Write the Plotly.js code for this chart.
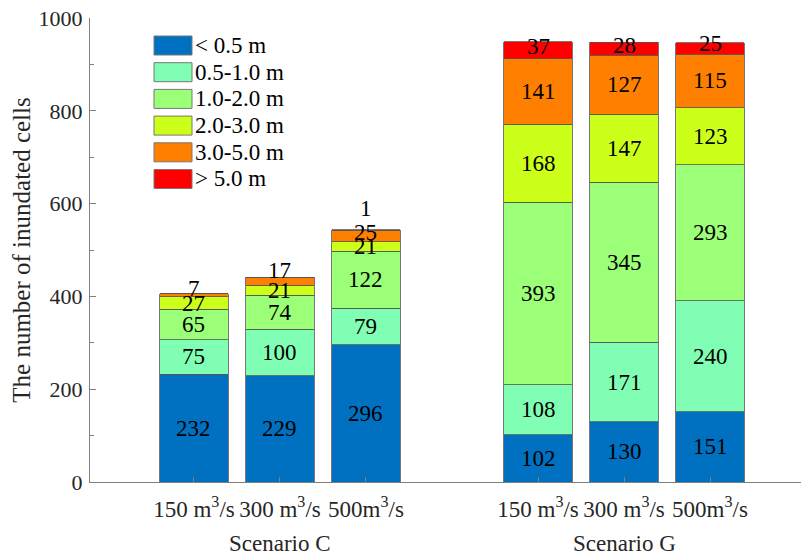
<!DOCTYPE html>
<html>
<head>
<meta charset="utf-8">
<script src="https://cdn.plot.ly/plotly-3.0.1.min.js"></script>
<style>html,body{margin:0;padding:0;background:#fff;}#chart{width:802px;height:555px;}</style>
</head>
<body>
<div id="chart"></div>
<script>
// ---- data ----
var barPositions = [1, 2, 3, 5, 6, 7];
var flowLabels = ["150 m<sup>3</sup>/s", "300 m<sup>3</sup>/s", "500m<sup>3</sup>/s",
                  "150 m<sup>3</sup>/s", "300 m<sup>3</sup>/s", "500m<sup>3</sup>/s"];
var scenarioNames = ["Scenario C", "Scenario G"];
var scenarioCenters = [2, 6];
var depthClasses = ["< 0.5 m", "0.5-1.0 m", "1.0-2.0 m", "2.0-3.0 m", "3.0-5.0 m", "> 5.0 m"];
var lt05   = [232, 229, 296, 102, 130, 151];
var d05_10 = [75, 100, 79, 108, 171, 240];
var d10_20 = [65, 74, 122, 393, 345, 293];
var d20_30 = [27, 21, 21, 168, 147, 123];
var d30_50 = [7, 17, 25, 141, 127, 115];
var gt50   = [0, 0, 1, 37, 28, 25];
var yTicks = [0, 200, 400, 600, 800, 1000];

// ---- styling ----
var colors = ["#0070C0", "#80FFB4", "#9BFF78", "#CCFF1A", "#FF8000", "#FF0000"];
var series = [lt05, d05_10, d10_20, d20_30, d30_50, gt50];
// label nudges (px, upward) for crowded small segments: "series-bar"
var nudge = {"4-0": 7, "4-1": 11, "5-2": 21, "5-3": 4, "5-4": 3, "5-5": 5, "4-2": 3};
var FONT = "Liberation Serif, Times New Roman, serif";
var W = 802, H = 555, ML = 90, MR = 1, MT = 18, MB = 73;
var PW = W - ML - MR, PH = H - MT - MB;
function px2x(px) { return (px - ML) / PW; }
function py2y(py) { return (H - MB - py) / PH; }

var traces = series.map(function (vals, i) {
  return {
    type: "bar",
    name: depthClasses[i],
    x: barPositions,
    y: vals,
    width: 0.8,
    marker: {color: colors[i], line: {color: "#555555", width: 0.8}},
    hoverinfo: "none",
    showlegend: false
  };
});

var annotations = [];
for (var j = 0; j < barPositions.length; j++) {
  var cum = 0;
  for (var i = 0; i < series.length; i++) {
    var v = series[i][j];
    if (v > 0) {
      annotations.push({
        x: barPositions[j], y: cum + v / 2, xref: "x", yref: "y",
        text: String(v), showarrow: false,
        yshift: nudge[i + "-" + j] || 0,
        font: {family: FONT, size: 23, color: "#000"}
      });
    }
    cum += v;
  }
}
for (var k = 0; k < scenarioNames.length; k++) {
  annotations.push({
    x: scenarioCenters[k], y: 0, xref: "x", yref: "paper",
    yanchor: "middle", yshift: -61,
    text: scenarioNames[k], showarrow: false,
    font: {family: FONT, size: 23, color: "#262626"}
  });
}

// custom legend (swatches + labels) in the upper left of the plot area
var shapes = [];
for (var m = 0; m < depthClasses.length; m++) {
  var swTop = 36 + 26.7 * m, swBot = swTop + 19;
  shapes.push({
    type: "rect", xref: "paper", yref: "paper",
    x0: px2x(154), x1: px2x(192), y0: py2y(swBot), y1: py2y(swTop),
    fillcolor: colors[m], line: {color: "#777777", width: 1}
  });
  annotations.push({
    x: px2x(193), y: py2y((swTop + swBot) / 2), xref: "paper", yref: "paper",
    xanchor: "left", yanchor: "middle", showarrow: false,
    text: depthClasses[m].replace("<", "&lt;").replace(">", "&gt;"),
    font: {family: FONT, size: 23, color: "#000"}
  });
}

var layout = {
  width: W, height: H,
  margin: {l: ML, r: MR, t: MT, b: MB},
  barmode: "stack",
  paper_bgcolor: "#fff", plot_bgcolor: "#fff",
  font: {family: FONT, color: "#262626"},
  showlegend: false,
  xaxis: {
    range: [-0.209, 8.058],
    tickmode: "array", tickvals: barPositions, ticktext: flowLabels,
    ticks: "inside", ticklen: 5, tickcolor: "#808080",
    showline: true, linecolor: "#808080", linewidth: 1,
    showgrid: false, zeroline: false,
    ticklabelstandoff: 6,
    tickfont: {family: FONT, size: 23, color: "#262626"}
  },
  yaxis: {
    range: [0, 1000],
    tickmode: "array", tickvals: yTicks,
    ticks: "inside", ticklen: 6, tickcolor: "#808080",
    minor: {dtick: 100, ticks: "inside", ticklen: 4, tickcolor: "#808080", showgrid: false},
    showline: true, linecolor: "#808080", linewidth: 1,
    showgrid: false, zeroline: false,
    ticklabelstandoff: 2,
    tickfont: {family: FONT, size: 22, color: "#262626"},
    title: {text: "The number of inundated cells", font: {family: FONT, size: 25, color: "#262626"}, standoff: 0}
  },
  shapes: shapes,
  annotations: annotations
};

Plotly.newPlot("chart", traces, layout, {displayModeBar: false, staticPlot: true});
</script>
</body>
</html>
